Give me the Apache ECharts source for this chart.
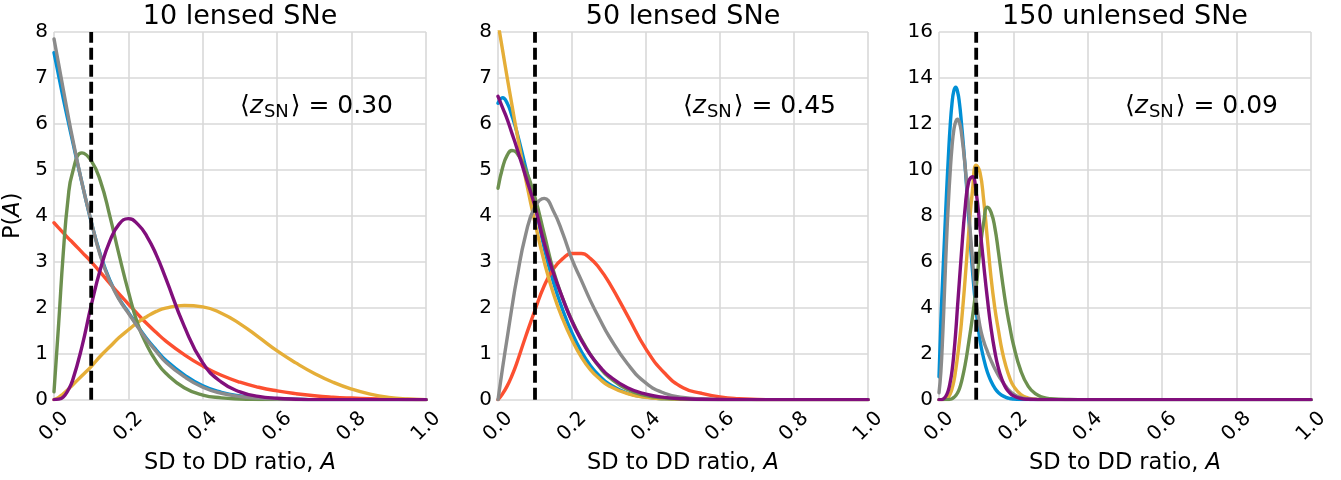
<!DOCTYPE html>
<html>
<head>
<meta charset="utf-8">
<script src="https://cdn.jsdelivr.net/npm/echarts@6/dist/echarts.min.js"></script>
<style>
html,body{margin:0;padding:0;background:#fff;}
#chart{width:1341px;height:480px;}
</style>
</head>
<body>
<div id="chart"></div>
<script>
// ---------- texts ----------
const panelTitles = ['10 lensed SNe', '50 lensed SNe', '150 unlensed SNe'];
const meanZ = ['0.30', '0.45', '0.09'];
const xLabelMain = 'SD to DD ratio, ';
const xLabelVar = 'A';
const seriesColors = ['#008fd5', '#fc4f30', '#e5ae38', '#6d904f', '#8b8b8b', '#810f7c'];

// ---------- axes ----------
const xMin = 0, xMax = 1.0, xStep = 0.2;
const yMaxes = [8, 8, 16];
const ySteps = [1, 1, 2];
const thresholdA = 0.1;

// ---------- data: panel 1 & 2 share the same A grid ----------
const A_lensed = [0, 0.0125, 0.025, 0.0375, 0.05, 0.075, 0.1, 0.125, 0.15, 0.175, 0.2, 0.225, 0.25, 0.275, 0.3, 0.35, 0.4, 0.45, 0.5, 0.55, 0.6, 0.65, 0.7, 0.75, 0.8, 0.85, 0.9, 0.95, 1.0];

const p1_blue   = [7.55, 7.05, 6.55, 6.08, 5.62, 4.72, 3.87, 3.15, 2.6, 2.2, 1.9, 1.6, 1.32, 1.08, 0.86, 0.54, 0.3, 0.16, 0.08, 0.04, 0.02, 0.01, 0, 0, 0, 0, 0, 0, 0];
const p1_red    = [3.85, 3.74, 3.63, 3.52, 3.42, 3.21, 3.0, 2.77, 2.53, 2.3, 2.08, 1.86, 1.65, 1.46, 1.28, 0.98, 0.73, 0.53, 0.38, 0.27, 0.19, 0.13, 0.085, 0.055, 0.035, 0.02, 0.01, 0.005, 0];
const p1_yellow = [0, 0.05, 0.13, 0.22, 0.32, 0.52, 0.72, 0.95, 1.15, 1.35, 1.52, 1.68, 1.81, 1.92, 1.99, 2.05, 2.02, 1.88, 1.65, 1.36, 1.06, 0.8, 0.57, 0.38, 0.23, 0.12, 0.05, 0.015, 0];
const p1_green  = [0.17, 1.65, 3.2, 4.35, 4.95, 5.37, 5.2, 4.75, 4.0, 3.15, 2.35, 1.65, 1.18, 0.83, 0.58, 0.26, 0.1, 0.04, 0.015, 0.005, 0, 0, 0, 0, 0, 0, 0, 0, 0];
const p1_gray   = [7.85, 7.3, 6.75, 6.2, 5.68, 4.72, 3.88, 3.12, 2.58, 2.18, 1.88, 1.58, 1.3, 1.05, 0.82, 0.5, 0.27, 0.14, 0.07, 0.035, 0.015, 0.005, 0, 0, 0, 0, 0, 0, 0];
const p1_purple = [0, 0.01, 0.06, 0.2, 0.42, 1.15, 2.05, 2.85, 3.45, 3.82, 3.94, 3.82, 3.55, 3.15, 2.65, 1.6, 0.8, 0.38, 0.17, 0.07, 0.03, 0.01, 0, 0, 0, 0, 0, 0, 0];

const p2_blue   = [6.45, 6.57, 6.45, 6.18, 5.85, 5.05, 4.25, 3.3, 2.55, 1.95, 1.45, 1.05, 0.74, 0.51, 0.34, 0.14, 0.055, 0.02, 0.006, 0.002, 0, 0, 0, 0, 0, 0, 0, 0, 0];
const p2_red    = [0, 0.13, 0.3, 0.52, 0.78, 1.38, 1.95, 2.48, 2.85, 3.07, 3.18, 3.18, 3.07, 2.85, 2.55, 1.83, 1.1, 0.58, 0.26, 0.14, 0.06, 0.02, 0.005, 0, 0, 0, 0, 0, 0];
const p2_yellow = [8.2, 7.6, 7.0, 6.42, 5.85, 4.8, 3.85, 3.0, 2.3, 1.75, 1.3, 0.93, 0.65, 0.45, 0.3, 0.13, 0.05, 0.02, 0.005, 0, 0, 0, 0, 0, 0, 0, 0, 0, 0];
const p2_green  = [4.6, 5.05, 5.32, 5.42, 5.38, 5.0, 4.4, 3.6, 2.8, 2.2, 1.72, 1.32, 0.98, 0.7, 0.49, 0.22, 0.09, 0.035, 0.012, 0.004, 0, 0, 0, 0, 0, 0, 0, 0, 0];
const p2_gray   = [0, 0.7, 1.35, 2.0, 2.6, 3.6, 4.2, 4.38, 4.1, 3.62, 3.05, 2.6, 2.15, 1.75, 1.38, 0.78, 0.36, 0.14, 0.05, 0.015, 0.004, 0, 0, 0, 0, 0, 0, 0, 0];
const p2_purple = [6.6, 6.35, 6.1, 5.8, 5.5, 4.85, 4.2, 3.4, 2.75, 2.2, 1.7, 1.3, 0.97, 0.72, 0.52, 0.26, 0.12, 0.05, 0.02, 0.008, 0.003, 0, 0, 0, 0, 0, 0, 0, 0];

// ---------- data: panel 3 (finer A grid) ----------
const A_unlensed = [0, 0.005, 0.01, 0.015, 0.02, 0.025, 0.03, 0.035, 0.04, 0.045, 0.05, 0.055, 0.06, 0.07, 0.08, 0.09, 0.1, 0.11, 0.12, 0.13, 0.14, 0.15, 0.16, 0.17, 0.18, 0.19, 0.2, 0.22, 0.24, 0.26, 0.28, 0.3, 0.35, 0.4, 0.5, 0.6, 0.7, 0.8, 0.9, 1.0];

const p3_blue   = [1.0, 3.4, 5.3, 7.1, 8.9, 10.5, 11.9, 12.9, 13.45, 13.6, 13.4, 12.9, 12.1, 10.2, 7.9, 5.6, 3.85, 2.6, 1.8, 1.2, 0.8, 0.5, 0.3, 0.18, 0.1, 0.05, 0.025, 0.005, 0, 0, 0, 0, 0, 0, 0, 0, 0, 0, 0, 0];
const p3_yellow = [0, 0, 0, 0.01, 0.05, 0.12, 0.25, 0.47, 0.8, 1.3, 1.9, 2.55, 3.3, 5.2, 7.3, 9.1, 10.2, 9.9, 8.7, 7.0, 5.3, 4.0, 3.0, 2.1, 1.45, 0.95, 0.6, 0.22, 0.07, 0.02, 0.005, 0, 0, 0, 0, 0, 0, 0, 0, 0];
const p3_green  = [0, 0, 0, 0, 0, 0, 0.02, 0.04, 0.1, 0.18, 0.3, 0.48, 0.75, 1.5, 2.5, 3.6, 4.9, 6.5, 7.7, 8.38, 8.15, 7.5, 6.4, 5.2, 4.1, 3.2, 2.4, 1.25, 0.58, 0.25, 0.1, 0.04, 0.005, 0, 0, 0, 0, 0, 0, 0];
const p3_gray   = [0.3, 1.2, 2.8, 4.8, 6.8, 8.5, 9.9, 11.0, 11.75, 12.1, 12.2, 12.05, 11.65, 10.2, 8.2, 6.1, 4.3, 3.2, 2.55, 2.1, 1.7, 1.35, 1.05, 0.8, 0.57, 0.38, 0.25, 0.09, 0.03, 0.01, 0, 0, 0, 0, 0, 0, 0, 0, 0, 0];
const p3_purple = [0, 0, 0.02, 0.08, 0.2, 0.4, 0.75, 1.25, 2.0, 2.95, 4.1, 5.2, 6.3, 8.3, 9.5, 9.7, 9.0, 7.5, 5.9, 4.4, 3.1, 2.1, 1.35, 0.85, 0.5, 0.3, 0.17, 0.05, 0.015, 0.005, 0, 0, 0, 0, 0, 0, 0, 0, 0, 0];

const panelA = [A_lensed, A_lensed, A_unlensed];
// null = no such curve in that panel (no red curve is visible in panel 3)
const panelSeries = [
  [p1_blue, p1_red, p1_yellow, p1_green, p1_gray, p1_purple],
  [p2_blue, p2_red, p2_yellow, p2_green, p2_gray, p2_purple],
  [p3_blue, null, p3_yellow, p3_green, p3_gray, p3_purple]
];

// ---------- layout ----------
const FONT = 'DejaVu Sans';
const grids = [
  {left: 54, top: 32, width: 372, height: 371},
  {left: 498, top: 32, width: 370, height: 371},
  {left: 939, top: 32, width: 372, height: 371}
];
const GRID_COLOR = '#d9d9d9';

const chart = echarts.init(document.getElementById('chart'), null, {renderer: 'canvas'});

const xAxes = grids.map((g, i) => ({
  type: 'value', gridIndex: i, min: xMin, max: xMax, interval: xStep,
  axisLine: {show: false}, axisTick: {show: false},
  splitLine: {show: true, lineStyle: {color: GRID_COLOR, width: 1.6}},
  axisLabel: {
    rotate: 45, align: 'center', verticalAlign: 'middle', margin: 27,
    fontSize: 20, fontFamily: FONT, color: '#000',
    formatter: v => v.toFixed(1)
  },
  name: '{n|' + xLabelMain + '}{i|' + xLabelVar + '}',
  nameLocation: 'middle', nameGap: 59,
  nameTextStyle: {
    verticalAlign: 'middle',
    rich: {
      n: {fontSize: 22.5, fontFamily: FONT, color: '#000'},
      i: {fontSize: 22.5, fontFamily: FONT, fontStyle: 'italic', color: '#000'}
    }
  }
}));

const yAxes = grids.map((g, i) => {
  const ax = {
    type: 'value', gridIndex: i, min: 0, max: yMaxes[i], interval: ySteps[i],
    axisLine: {show: false}, axisTick: {show: false},
    splitLine: {show: true, lineStyle: {color: GRID_COLOR, width: 1.6}},
    axisLabel: {fontSize: 20, fontFamily: FONT, color: '#000', margin: 6}
  };
  if (i === 0) {
    ax.name = '{n|P(}{i|A}{n|)}';
    ax.nameLocation = 'middle';
    ax.nameRotate = 90;
    ax.nameGap = 41;
    ax.nameTextStyle = {
      verticalAlign: 'middle',
      rich: {
        n: {fontSize: 22.5, fontFamily: FONT, color: '#000'},
        i: {fontSize: 22.5, fontFamily: FONT, fontStyle: 'italic', color: '#000'}
      }
    };
  }
  return ax;
});

const series = [];
panelSeries.forEach((list, p) => {
  list.forEach((vals, k) => {
    if (!vals) return;
    series.push({
      type: 'line', xAxisIndex: p, yAxisIndex: p,
      data: panelA[p].map((a, j) => [a, vals[j]]),
      showSymbol: false, symbol: 'none',
      smooth: 0.5,
      clip: true,
      lineStyle: {color: seriesColors[k], width: 3.4, cap: 'round', join: 'round'},
      itemStyle: {color: seriesColors[k]},
      z: 2 + k, silent: true, animation: false
    });
  });
  // dashed vertical threshold line
  series.push({
    type: 'line', xAxisIndex: p, yAxisIndex: p,
    data: [[thresholdA, 0], [thresholdA, yMaxes[p]]],
    showSymbol: false, symbol: 'none',
    lineStyle: {color: '#000', width: 3.8, type: [12, 5]},
    z: 20, silent: true, animation: false
  });
});

const titles = grids.map((g, i) => ({
  text: panelTitles[i],
  left: g.left + g.width / 2, top: 3, textAlign: 'center', padding: 0,
  textStyle: {fontSize: 27, fontWeight: 'normal', fontFamily: FONT, color: '#000'}
}));

const graphics = grids.map((g, i) => ({
  type: 'text',
  x: g.left + g.width * 0.5,
  y: g.top + g.height * 0.2,
  z: 100,
  style: {
    text: '{b|\u27e8}{z|z}{s|SN}{b|\u27e9 = ' + meanZ[i] + '}',
    align: 'left', verticalAlign: 'middle',
    rich: {
      b: {fontSize: 25, fontFamily: FONT, fill: '#000', color: '#000', lineHeight: 30, verticalAlign: 'middle'},
      z: {fontSize: 25, fontFamily: FONT, fontStyle: 'italic', fill: '#000', color: '#000', lineHeight: 30, verticalAlign: 'middle'},
      s: {fontSize: 18, fontFamily: FONT, fill: '#000', color: '#000', lineHeight: 18, verticalAlign: 'bottom', padding: [0, 2, 0, 1]}
    }
  }
}));

chart.setOption({
  animation: false,
  backgroundColor: '#fff',
  title: titles,
  grid: grids,
  xAxis: xAxes,
  yAxis: yAxes,
  series: series,
  graphic: graphics
});
</script>
</body>
</html>
